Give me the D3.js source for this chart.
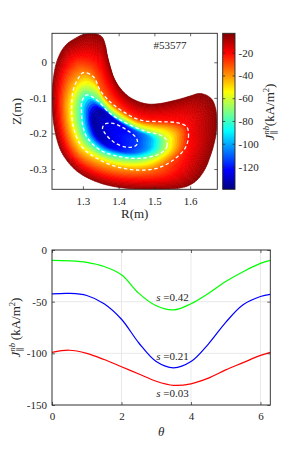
<!DOCTYPE html>
<html>
<head>
<meta charset="utf-8">
<script src="https://cdn.jsdelivr.net/npm/d3@7"></script>
<style>
  body { margin: 0; background: #fff; }
  text { font-family: "Liberation Serif", "DejaVu Serif", serif; font-size: 11px; fill: #262626; }
</style>
</head>
<body>
<svg id="fig" width="291" height="456"></svg>
<script>
// ---- data ----
// bottom panel: J_par^nb (kA/m^2) along three flux surfaces vs theta
const theta = [0, 0.5, 1, 1.5, 2, 2.5, 3, 3.5, 4, 4.5, 5, 5.5, 6, 6.283];
const jS042 = [-10, -10.5, -12, -16, -24, -42, -54, -58, -52, -42, -30.5, -21, -13, -10];
const jS021 = [-42.5, -42, -44, -52, -67, -90, -108, -114, -108, -91, -70, -53, -45, -43];
const jS003 = [-99, -97, -100, -106, -113, -120, -127, -131, -129.5, -124, -116, -109, -102, -99];
const sNames = ['0.42', '0.21', '0.03'];
const sLabelTheta = 3.0;
const sLabelJ = [-46, -103, -138.7];

// top panel: surfaces in (R, Z) metres, starting at the outboard end, counter-clockwise
const lcfs = [[1.6746,-0.1622],[1.671,-0.1285],[1.6612,-0.1046],[1.6444,-0.0919],[1.6248,-0.0877],
  [1.5996,-0.0948],[1.5716,-0.1032],[1.5437,-0.1102],[1.5157,-0.1158],[1.4821,-0.1172],[1.4513,-0.1088],
  [1.4261,-0.0948],[1.4038,-0.0723],[1.387,-0.0442],[1.3758,-0.0104],[1.3674,0.0233],[1.3618,0.0514],
  [1.3534,0.0711],[1.3394,0.0795],[1.3198,0.0812],[1.3002,0.0781],[1.2779,0.0669],[1.2583,0.0542],
  [1.2415,0.0346],[1.2275,0.0036],[1.2191,-0.0329],[1.2143,-0.0779],[1.2143,-0.1201],[1.2177,-0.1678],
  [1.2261,-0.2128],[1.2387,-0.2494],[1.2583,-0.2803],[1.2862,-0.3084],[1.3198,-0.3281],[1.3562,-0.3421],
  [1.3982,-0.3514],[1.4401,-0.3556],[1.4877,-0.3567],[1.5353,-0.3562],[1.5716,-0.3534],[1.5996,-0.3449],
  [1.622,-0.3281],[1.6416,-0.3],[1.6556,-0.2662],[1.6668,-0.2297],[1.6732,-0.1959]];
const surf042 = [[1.5954,-0.21],[1.5904,-0.181],[1.5624,-0.1698],[1.5157,-0.167],[1.4597,-0.1622],
  [1.413,-0.1389],[1.3758,-0.1108],[1.3478,-0.0779],[1.3291,-0.0405],[1.3011,-0.0293],[1.2871,-0.045],
  [1.2731,-0.0779],[1.2686,-0.1248],[1.2731,-0.181],[1.2966,-0.2373],[1.3386,-0.2699],[1.3945,-0.2935],
  [1.4505,-0.3028],[1.5065,-0.298],[1.5529,-0.2747],[1.5856,-0.2418]];
const surf021 = [[1.5353,-0.2353],[1.5339,-0.2184],[1.5157,-0.2044],[1.4785,-0.1951],[1.4225,-0.1715],
  [1.3758,-0.1434],[1.3386,-0.106],[1.3106,-0.0919],[1.2974,-0.1088],[1.296,-0.1397],[1.2988,-0.1735],
  [1.3106,-0.2092],[1.3478,-0.2465],[1.4038,-0.2654],[1.4597,-0.2699],[1.5065,-0.2606],[1.5297,-0.2465]];
const surf003 = [[1.4527,-0.2241],[1.4485,-0.2114],[1.4225,-0.1903],[1.385,-0.1715],[1.3618,-0.1735],
  [1.3548,-0.1847],[1.3618,-0.1996],[1.385,-0.2232],[1.4225,-0.239],[1.4485,-0.2339]];
const magAxis = [1.398, -0.207];

// top panel colours: J read along each surface (arc-length angle) from the map
const topTheta = [0, 1.0, 1.7, 2.47, 3.16, 3.93, 4.68, 5.42, 6.283];
const topJ003 = [-114, -122, -125, -128, -131, -128, -124, -118, -114];
const topJ010 = [-98, -112, -125, -135, -137, -133, -122, -110, -98];
const topJ021 = [-60, -70, -79, -77, -82, -82, -79, -73, -60];
const topJ042 = [-20, -25, -30, -38, -55, -52, -42, -33, -20];
const jAxis = -122;
const jEdge = -4;

// ticks
const rTicks = [1.3, 1.4, 1.5, 1.6];
const zTicks = [0, -0.1, -0.2, -0.3];
const cbTicks = [-20, -40, -60, -80, -100, -120];
const thTicks = [0, 2, 4, 6];
const jTicks = [0, -50, -100, -150];

const svg = d3.select('#fig');
svg.append('rect').attr('width', 291).attr('height', 456).attr('fill', '#fff');

// MATLAB jet
function jet(t) {
  t = Math.max(0, Math.min(1, t));
  const f = v => Math.round(255 * Math.max(0, Math.min(1, v)));
  return 'rgb(' + f(1.5 - Math.abs(4 * t - 3)) + ',' + f(1.5 - Math.abs(4 * t - 2)) + ',' + f(1.5 - Math.abs(4 * t - 1)) + ')';
}
const color = d3.scaleSequential(jet).domain([-140, -3]).clamp(true);

// scales
const xR = d3.scaleLinear().domain([1.2135, 1.676]).range([52, 217.3]);
const yZ = d3.scaleLinear().domain([-0.357, 0.0815]).range([189.3, 33.3]);
const yCb = d3.scaleLinear().domain([-140, -3]).range([189.3, 33.3]);
const xT = d3.scaleLinear().domain([0, 2 * Math.PI]).range([52, 270.3]);
const yJ = d3.scaleLinear().domain([-150, 0]).range([405, 250]);

const str = d => String(d);

function frame(g, x, y, xt, yt, xfmt, yfmt, padX, padY) {
  const [xa, xb] = x.range(), [ya, yb] = y.range();
  g.attr('color', '#262626');
  const ax = [
    g.append('g').attr('transform', 'translate(0,' + ya + ')')
      .call(d3.axisBottom(x).tickValues(xt).tickSize(-3).tickPadding(padX).tickFormat(xfmt)),
    g.append('g').attr('transform', 'translate(0,' + yb + ')')
      .call(d3.axisTop(x).tickValues(xt).tickSize(-3).tickFormat('')),
    g.append('g').attr('transform', 'translate(' + xa + ',0)')
      .call(d3.axisLeft(y).tickValues(yt).tickSize(-3).tickPadding(padY).tickFormat(yfmt)),
    g.append('g').attr('transform', 'translate(' + xb + ',0)')
      .call(d3.axisRight(y).tickValues(yt).tickSize(-3).tickFormat(''))
  ];
  ax.forEach(a => { a.select('.domain').remove(); a.attr('font-size', null).attr('font-family', null); a.selectAll('line').attr('stroke-width', 0.7); });
  g.append('rect').attr('x', xa).attr('y', yb).attr('width', xb - xa).attr('height', ya - yb)
    .attr('fill', 'none').attr('stroke', '#262626').attr('stroke-width', 0.9);
}

// J_par^nb label
function jLabel(t, gap) {
  t.append('tspan').attr('font-style', 'italic').text('J');
  t.append('tspan').attr('font-style', 'italic').style('font-size', '8.5px').attr('dy', -5).text('nb');
  t.append('tspan').style('font-size', '8.5px').attr('dx', -8.5).attr('dy', 8).text('\u2225');
  t.append('tspan').attr('dx', 4.5 + gap).attr('dy', -3).text('(kA/m');
  t.append('tspan').style('font-size', '8.5px').attr('dy', -5).text('2');
  t.append('tspan').attr('dy', 5).text(')');
}

// ---------- top panel ----------
const topG = svg.append('g');
topG.append('clipPath').attr('id', 'clipTop').append('rect')
  .attr('x', 52).attr('y', 33.3).attr('width', 165.3).attr('height', 156);

const loopLine = d3.line().x(d => xR(d[0])).y(d => yZ(d[1])).curve(d3.curveCatmullRomClosed.alpha(0.5));
// closed catmull-rom path starts on the 2nd point, so rotate by one
const rot = pts => [pts[pts.length - 1]].concat(pts.slice(0, -1));

const N = 240;
function sampleLoop(pts) {
  const p = svg.append('path').attr('d', loopLine(rot(pts))).attr('fill', 'none');
  const node = p.node(), L = node.getTotalLength();
  const out = d3.range(N).map(j => { const q = node.getPointAtLength(L * j / N); return [q.x, q.y]; });
  p.remove();
  return out;
}
const mix = (A, B, t) => A.map((a, j) => [a[0] + t * (B[j][0] - a[0]), a[1] + t * (B[j][1] - a[1])]);

const thSample = d3.range(N).map(j => 2 * Math.PI * j / N);
const jOn = arr => { const s = d3.scaleLinear().domain(topTheta).range(arr); return thSample.map(s); };

const L003 = sampleLoop(surf003), L021 = sampleLoop(surf021);
const loops = [
  d3.range(N).map(() => [xR(magAxis[0]), yZ(magAxis[1])]),
  L003, mix(L003, L021, 0.45), L021, sampleLoop(surf042), sampleLoop(lcfs)
];
const loopJ = [thSample.map(() => jAxis), jOn(topJ003), jOn(topJ010), jOn(topJ021), jOn(topJ042),
  thSample.map(() => jEdge)];
const steps = [5, 5, 7, 9, 16];

const quads = [];
for (let k = 0; k < loops.length - 1; k++) {
  const A = loops[k], B = loops[k + 1], JA = loopJ[k], JB = loopJ[k + 1], M = steps[k];
  const P = (t, jj) => [A[jj][0] + t * (B[jj][0] - A[jj][0]), A[jj][1] + t * (B[jj][1] - A[jj][1])];
  for (let i = 0; i < M; i++) {
    const t0 = i / M, t1 = (i + 1) / M, tm = (i + 0.5) / M;
    for (let j = 0; j < N; j++) {
      const j2 = (j + 1) % N;
      const pts = [P(t0, j), P(t0, j2), P(t1, j2), P(t1, j)];
      const ja = (JA[j] + JA[j2]) / 2, jb = (JB[j] + JB[j2]) / 2;
      quads.push({ pts: pts, v: ja + tm * (jb - ja) });
    }
  }
}
quads.reverse(); // outer bands first
topG.append('g').attr('clip-path', 'url(#clipTop)')
  .selectAll('path').data(quads).join('path')
  .attr('d', d => 'M' + d.pts.map(p => p[0].toFixed(2) + ',' + p[1].toFixed(2)).join('L') + 'Z')
  .attr('fill', d => color(d.v))
  .attr('stroke', d => color(d.v))
  .attr('stroke-width', 0.6);

topG.append('g').selectAll('path').data([surf042, surf021, surf003]).join('path')
  .attr('d', d => loopLine(rot(d)))
  .attr('fill', 'none').attr('stroke', '#fff').attr('stroke-width', 1.3)
  .attr('stroke-dasharray', '3.5,2.6');

frame(topG, xR, yZ, rTicks, zTicks, str, str, 8, 5);

topG.append('text').attr('x', 170).attr('y', 48.7).attr('text-anchor', 'middle').text('#53577');
topG.append('text').attr('x', 134.7).attr('y', 218).attr('text-anchor', 'middle').style('font-size', '13px').text('R(m)');
topG.append('text').attr('transform', 'translate(21,111.3) rotate(-90)').attr('text-anchor', 'middle')
  .style('font-size', '13px').text('Z(m)');

// colorbar
const grad = svg.append('defs').append('linearGradient').attr('id', 'jetGrad')
  .attr('x1', 0).attr('y1', 1).attr('x2', 0).attr('y2', 0);
grad.selectAll('stop').data(d3.range(0, 1.0001, 1 / 32)).join('stop')
  .attr('offset', d => d).attr('stop-color', d => jet(d));
const cb = svg.append('g').attr('color', '#262626');
cb.append('rect').attr('x', 222.7).attr('y', 33.3).attr('width', 12.3).attr('height', 156)
  .attr('fill', 'url(#jetGrad)');
const cbAx = cb.append('g').attr('transform', 'translate(235,0)')
  .call(d3.axisRight(yCb).tickValues(cbTicks).tickSize(-2.5).tickPadding(3.5).tickFormat(str));
const cbAx2 = cb.append('g').attr('transform', 'translate(222.7,0)')
  .call(d3.axisLeft(yCb).tickValues(cbTicks).tickSize(-2.5).tickFormat(''));
[cbAx, cbAx2].forEach(a => { a.select('.domain').remove(); a.attr('font-size', null).attr('font-family', null); a.selectAll('line').attr('stroke-width', 0.7); });
cb.append('rect').attr('x', 222.7).attr('y', 33.3).attr('width', 12.3).attr('height', 156)
  .attr('fill', 'none').attr('stroke', '#262626').attr('stroke-width', 0.9);
const cbLab = cb.append('text').attr('transform', 'translate(274,112) rotate(-90)')
  .attr('text-anchor', 'middle').style('font-size', '13px');
jLabel(cbLab, 0);

// ---------- bottom panel ----------
const bot = svg.append('g');
bot.append('g').selectAll('line').data(thTicks).join('line')
  .attr('x1', d => xT(d)).attr('x2', d => xT(d)).attr('y1', 250).attr('y2', 405)
  .attr('stroke', '#e3e3e3').attr('stroke-width', 0.8);
bot.append('g').selectAll('line').data(jTicks).join('line')
  .attr('y1', d => yJ(d)).attr('y2', d => yJ(d)).attr('x1', 52).attr('x2', 270.3)
  .attr('stroke', '#e3e3e3').attr('stroke-width', 0.8);

const series = [
  { v: jS042, c: '#00ff00' },
  { v: jS021, c: '#0000ff' },
  { v: jS003, c: '#ff0000' }
];
const curve = d3.line().x((d, i) => xT(theta[i])).y(d => yJ(d)).curve(d3.curveCatmullRom.alpha(0.5));
bot.append('g').selectAll('path').data(series).join('path')
  .attr('d', d => curve(d.v)).attr('fill', 'none').attr('stroke', d => d.c).attr('stroke-width', 1.2);

const sl = bot.append('g').selectAll('text').data(sNames).join('text')
  .attr('x', xT(sLabelTheta)).attr('y', (d, i) => yJ(sLabelJ[i])).attr('dy', '0.33em');
sl.append('tspan').attr('font-style', 'italic').text('s');
sl.append('tspan').text(d => ' =' + d);

frame(bot, xT, yJ, thTicks, jTicks, str, str, 7, 5);

bot.append('text').attr('x', 161.2).attr('y', 436).attr('text-anchor', 'middle')
  .attr('font-style', 'italic').style('font-size', '13px').text('\u03b8');
const yLab = bot.append('text').attr('transform', 'translate(20,327.5) rotate(-90)')
  .attr('text-anchor', 'middle').style('font-size', '13px');
jLabel(yLab, 3);
</script>
</body>
</html>
